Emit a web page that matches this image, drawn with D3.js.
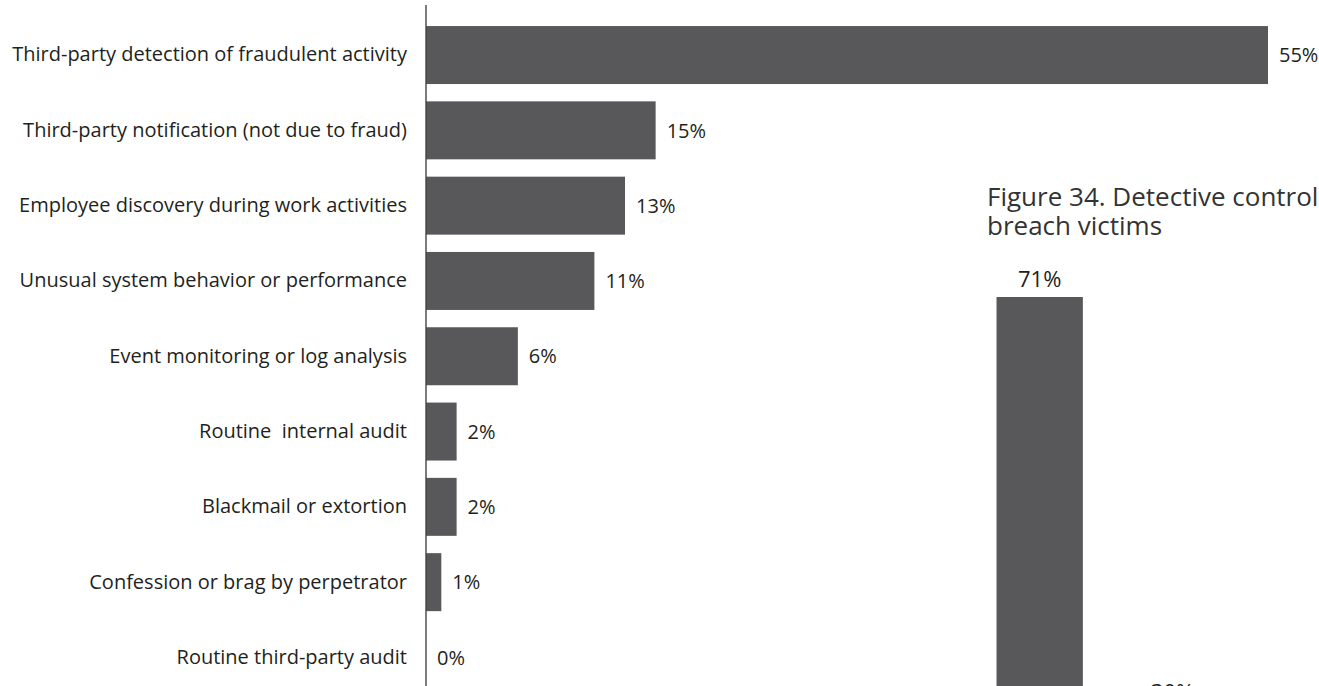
<!DOCTYPE html>
<html>
<head>
<meta charset="utf-8">
<script src="https://cdn.jsdelivr.net/npm/d3@7"></script>
<style>
  html, body { margin: 0; padding: 0; background: #fff; overflow: hidden; }
  svg { display: block; }
  text { font-family: "Open Sans", "Noto Sans", sans-serif; white-space: pre; }
</style>
</head>
<body>
<svg id="chart" width="1319" height="686"></svg>
<script>
// Discovery methods (left panel)
const methods = [
  "Third-party detection of fraudulent activity",
  "Third-party notification (not due to fraud)",
  "Employee discovery during work activities",
  "Unusual system behavior or performance",
  "Event monitoring or log analysis",
  "Routine  internal audit",
  "Blackmail or extortion",
  "Confession or brag by perpetrator",
  "Routine third-party audit"
];
const methodShares = [55, 15, 13, 11, 6, 2, 2, 1, 0];

// Figure 34 (right panel, partly in view)
const figureTitle = ["Figure 34. Detective controls by percent of", "breach victims"];
const controlShares = [71, 30];

const BAR = "#58585a";
const INK = "#231f20";

const svg = d3.select("#chart");

// ---- left panel: horizontal bars ----
const x = d3.scaleLinear().domain([0, 55]).range([426, 1268]);
const y = d3.scaleBand()
  .domain(methods)
  .range([17.4, 695.1])
  .paddingInner(0.23)
  .paddingOuter(0.115);

const left = svg.append("g");

left.selectAll("rect.bar")
  .data(methods)
  .join("rect")
  .attr("class", "bar")
  .attr("x", x(0))
  .attr("y", d => y(d))
  .attr("width", (d, i) => x(methodShares[i]) - x(0))
  .attr("height", y.bandwidth())
  .attr("fill", BAR);

// category labels via a left axis without ticks
const yAxis = d3.axisLeft(y).tickSize(0).tickPadding(19);
const ag = left.append("g")
  .attr("transform", `translate(${x(0)},0)`)
  .call(yAxis);
ag.select(".domain").remove();
ag.selectAll("text")
  .attr("fill", INK)
  .style("font-size", "20px")
  .style("font-family", '"Open Sans", sans-serif')
  .style("white-space", "pre");

// vertical baseline
left.append("line")
  .attr("x1", x(0)).attr("x2", x(0))
  .attr("y1", 5).attr("y2", 686)
  .attr("stroke", "#444")
  .attr("stroke-width", 1.4);

// value labels
left.selectAll("text.val")
  .data(methods)
  .join("text")
  .attr("class", "val")
  .attr("x", (d, i) => x(methodShares[i]) + 11)
  .attr("y", d => y(d) + y.bandwidth() / 2)
  .attr("dy", "0.36em")
  .attr("fill", INK)
  .style("font-size", "20px")
  .text((d, i) => methodShares[i] + "%");

// ---- right panel: vertical bars ----
const right = svg.append("g");

right.selectAll("text.title")
  .data(figureTitle)
  .join("text")
  .attr("class", "title")
  .attr("x", 987)
  .attr("y", (d, i) => 206 + i * 29)
  .attr("fill", "#333")
  .style("font-size", "26px")
  .text(d => d);

const cx = d3.scaleBand()
  .domain(d3.range(controlShares.length))
  .range([972.6, 1239.6])
  .paddingInner(0.35)
  .paddingOuter(0.18);
const cy = d3.scaleLinear().domain([0, 71]).range([1012, 297]);

right.selectAll("rect.cbar")
  .data(controlShares)
  .join("rect")
  .attr("class", "cbar")
  .attr("x", (d, i) => cx(i))
  .attr("y", d => cy(d))
  .attr("width", cx.bandwidth())
  .attr("height", d => cy(0) - cy(d))
  .attr("fill", BAR);

right.selectAll("text.cval")
  .data(controlShares)
  .join("text")
  .attr("class", "cval")
  .attr("x", (d, i) => cx(i) + cx.bandwidth() / 2)
  .attr("y", d => cy(d) - 10)
  .attr("text-anchor", "middle")
  .attr("fill", INK)
  .style("font-size", "22px")
  .text(d => d + "%");
</script>
</body>
</html>
